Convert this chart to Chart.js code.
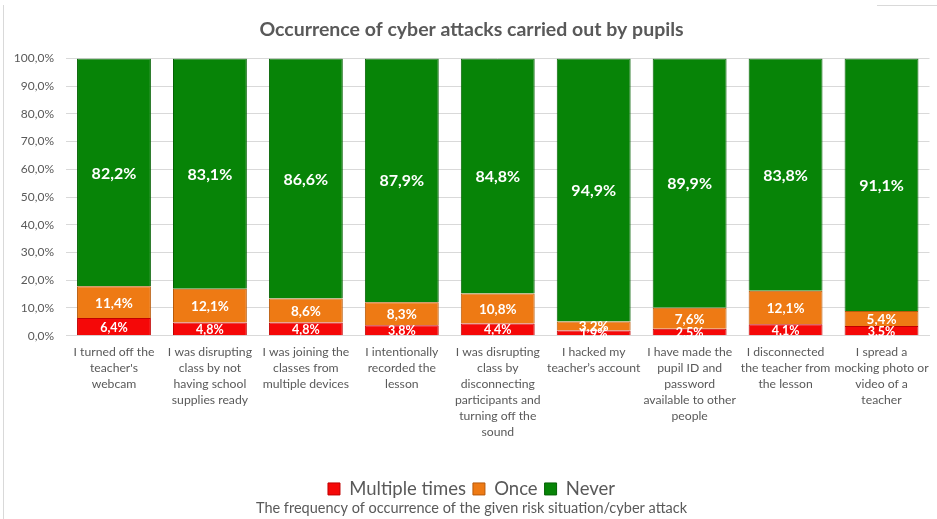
<!DOCTYPE html>
<html>
<head>
<meta charset="utf-8">
<script src="https://cdn.jsdelivr.net/npm/chart.js@4"></script>
<style>
  body { margin: 0; background: #fff; }
  canvas { display: block; }
</style>
</head>
<body>
<canvas id="chart" width="937" height="519"></canvas>
<script>
const categories = [
  ["I turned off the", "teacher's", "webcam"],
  ["I was disrupting", "class by not", "having school", "supplies ready"],
  ["I was joining the", "classes from", "multiple devices"],
  ["I intentionally", "recorded the", "lesson"],
  ["I was disrupting", "class by", "disconnecting", "participants and", "turning off the", "sound"],
  ["I hacked my", "teacher\u2019s account"],
  ["I have made the", "pupil ID and", "password", "available to other", "people"],
  ["I disconnected", "the teacher from", "the lesson"],
  ["I spread a", "mocking photo or", "video of a", "teacher"]
];
const multipleTimes = [6.4, 4.8, 4.8, 3.8, 4.4, 1.9, 2.5, 4.1, 3.5];
const once = [11.4, 12.1, 8.6, 8.3, 10.8, 3.2, 7.6, 12.1, 5.4];
const never = [82.2, 83.1, 86.6, 87.9, 84.8, 94.9, 89.9, 83.8, 91.1];

const grey = "#595959";
const fmt = (v) => v.toFixed(1).replace(".", ",") + "%";

// white value labels centred in each segment
const segmentLabels = {
  id: "segmentLabels",
  afterDatasetsDraw(chart) {
    const ctx = chart.ctx;
    const sizes = [12.5, 13.5, 16];
    chart.data.datasets.forEach((ds, di) => {
      const meta = chart.getDatasetMeta(di);
      meta.data.forEach((bar, i) => {
        const y = (bar.y + bar.base) / 2;
        ctx.save();
        ctx.fillStyle = "#fff";
        ctx.font = "bold " + sizes[di] + "px Lato";
        ctx.textAlign = "center";
        ctx.textBaseline = "middle";
        ctx.fillText(fmt(ds.data[i]), bar.x, y + 1);
        ctx.restore();
      });
    });
  }
};

const frame = {
  id: "frame",
  beforeDraw(chart) {
    const ctx = chart.ctx;
    ctx.save();
    ctx.strokeStyle = "#d9d9d9";
    ctx.lineWidth = 1;
    ctx.beginPath();
    ctx.moveTo(3.5, 5);
    ctx.lineTo(3.5, 519);
    ctx.moveTo(877, 5.5);
    ctx.lineTo(937, 5.5);
    ctx.stroke();
    ctx.restore();
  }
};

new Chart(document.getElementById("chart"), {
  type: "bar",
  data: {
    labels: categories,
    datasets: [
      { label: "Multiple times", data: multipleTimes, backgroundColor: "#f50808", borderColor: "#c00000", borderWidth: 1 },
      { label: "Once", data: once, backgroundColor: "#ee7a14", borderColor: "#b85a0a", borderWidth: 1 },
      { label: "Never", data: never, backgroundColor: "#078407", borderColor: "#046204", borderWidth: 1 }
    ]
  },
  options: {
    responsive: false,
    animation: false,
    layout: { padding: { left: 12, right: 6, top: 0, bottom: 2 } },
    datasets: { bar: { categoryPercentage: 1, barPercentage: 0.77 } },
    scales: {
      x: {
        stacked: true,
        grid: { display: false, drawTicks: false },
        border: { color: "#d9d9d9" },
        ticks: { color: grey, font: { family: "Lato", size: 12.2, lineHeight: "16px" }, padding: 8, maxRotation: 0, autoSkip: false },
        afterFit: (scale) => { scale.height = 137; }
      },
      y: {
        stacked: true,
        min: 0,
        max: 100,
        grid: { color: "#d9d9d9", drawTicks: false },
        border: { display: false },
        ticks: {
          stepSize: 10,
          color: grey,
          font: { family: "Lato", size: 12 },
          padding: 12,
          callback: (v) => fmt(v)
        },
        afterFit: (scale) => { scale.width = 54; }
      }
    },
    plugins: {
      title: {
        display: true,
        text: "Occurrence of cyber attacks carried out by pupils",
        color: grey,
        font: { family: "Lato", size: 19.5, weight: "bold" },
        padding: { top: 18, bottom: 17 }
      },
      subtitle: {
        display: true,
        position: "bottom",
        text: "The frequency of occurrence of the given risk situation/cyber attack",
        color: grey,
        font: { family: "Lato", size: 14.5 },
        padding: { top: -8.6, bottom: 0 }
      },
      legend: {
        position: "bottom",
        labels: {
          color: grey,
          font: { family: "Lato", size: 18.5 },
          boxWidth: 12,
          boxHeight: 12,
          padding: 7
        }
      },
      tooltip: { enabled: false }
    }
  },
  plugins: [segmentLabels, frame]
});
</script>
</body>
</html>
